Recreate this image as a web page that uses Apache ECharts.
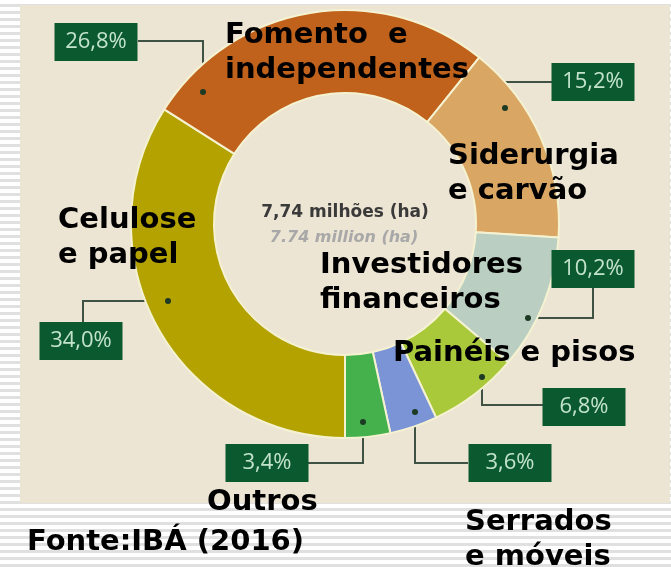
<!DOCTYPE html>
<html>
<head>
<meta charset="utf-8">
<script src="https://cdn.jsdelivr.net/npm/echarts/dist/echarts.min.js"></script>
<style>
  html, body {
    margin: 0;
    padding: 0;
    background: repeating-linear-gradient(#ffffff 0px, #ffffff 4px, #e0e0e0 4px, #e0e0e0 7px);
  }
  #chart {
    width: 671px;
    height: 567px;
  }
</style>
</head>
<body>
<div id="chart"></div>
<script>
// área plantada por segmento (%), sentido horário a partir de baixo
const categories = [
  "Celulose e papel",
  "Fomento e independentes",
  "Siderurgia e carvão",
  "Investidores financeiros",
  "Painéis e pisos",
  "Serrados e móveis",
  "Outros",
];
const shares = [34.0, 26.8, 15.2, 10.2, 6.8, 3.6, 3.4];
const nameTexts = [
  "Celulose\ne papel",
  "Fomento  e\nindependentes",
  "Siderurgia\ne carvão",
  "Investidores\nfinanceiros",
  "Painéis e pisos",
  "Serrados\ne móveis",
  "Outros",
];
const totalText = ["7,74 milhões (ha)", "7.74 million (ha)"];
const sourceText = "Fonte:IBÁ (2016)";

const sliceColors = ["#b3a200", "#c0621b", "#d9a763", "#bacfc1", "#a9c93b", "#7a94d6", "#44b14d"];

// caixas de porcentagem: centro + linha de chamada (ponto -> cotovelo -> caixa)
const boxLayout = [
  { x: 81, y: 341, line: [[168, 301], [83, 301], [83, 322]] },
  { x: 96, y: 42, line: [[203, 92], [203, 41], [138, 41]] },
  { x: 593, y: 82, line: [[505, 108], [505, 82], [552, 82]] },
  { x: 593, y: 269, line: [[528, 318], [593, 318], [593, 288]] },
  { x: 584, y: 407, line: [[482, 377], [482, 405], [543, 405]] },
  { x: 510, y: 463, line: [[415, 412], [415, 463], [468, 463]] },
  { x: 267, y: 463, line: [[363, 422], [363, 463], [308, 463]] },
];
const namePos = [
  [58, 203], [225, 18], [448, 139], [320, 248], [393, 336], [465, 505], [207, 485],
];

var chartDom = document.getElementById("chart");
var myChart = echarts.init(chartDom);
var option;

const nameFont = 'bold 29px "DejaVu Sans"';

const graphics = [
  {
    type: "rect",
    z: -10,
    shape: { x: 20, y: 5, width: 650, height: 498 },
    style: { fill: "#ede5d3" },
  },
  {
    type: "text",
    z: 10,
    style: {
      text: totalText[0], x: 345, y: 213,
      font: 'bold 17px "DejaVu Sans"', fill: "#3a3a3a",
      textAlign: "center", textVerticalAlign: "middle",
    },
  },
  {
    type: "text",
    z: 10,
    style: {
      text: totalText[1], x: 344, y: 238,
      font: 'italic bold 16px "DejaVu Sans"', fill: "#a8a8a8",
      textAlign: "center", textVerticalAlign: "middle",
    },
  },
  {
    type: "text",
    z: 10,
    style: {
      text: sourceText, x: 27, y: 525,
      font: nameFont, fill: "#000", lineHeight: 35,
      textAlign: "left", textVerticalAlign: "top",
    },
  },
];

nameTexts.forEach((t, i) => {
  graphics.push({
    type: "text",
    z: 20,
    style: {
      text: t, x: namePos[i][0], y: namePos[i][1],
      font: nameFont, fill: "#000", lineHeight: 35,
      textAlign: "left", textVerticalAlign: "top",
    },
  });
});

boxLayout.forEach((b) => {
  graphics.push({
    type: "circle",
    z: 15,
    shape: { cx: b.line[0][0], cy: b.line[0][1], r: 3 },
    style: { fill: "#1d3a24" },
  });
});

option = {
  animation: false,
  graphic: graphics,
  series: [
    {
      type: "pie",
      center: [345, 224],
      radius: [131, 214],
      startAngle: -90,
      clockwise: true,
      avoidLabelOverlap: false,
      itemStyle: {
        borderColor: "#f5f2d2",
        borderWidth: 2,
      },
      label: {
        show: true,
        formatter: (p) => p.value.toFixed(1).replace(".", ",") + "%",
        backgroundColor: "#0b5a2f",
        color: "#c3e3cb",
        fontFamily: "Open Sans",
        fontSize: 22,
        width: 83,
        height: 38,
        lineHeight: 38,
        align: "center",
        verticalAlign: "middle",
      },
      labelLine: {
        show: true,
        lineStyle: { color: "#3f5243", width: 2 },
      },
      labelLayout: (params) => {
        const b = boxLayout[params.dataIndex];
        return {
          x: b.x,
          y: b.y,
          align: "center",
          verticalAlign: "middle",
          labelLinePoints: b.line,
        };
      },
      data: categories.map((c, i) => ({
        name: c,
        value: shares[i],
        itemStyle: { color: sliceColors[i] },
      })),
    },
  ],
};

option && myChart.setOption(option);
</script>
</body>
</html>
